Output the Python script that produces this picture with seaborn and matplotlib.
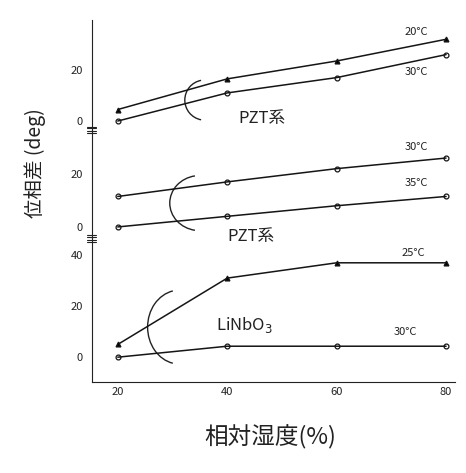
import numpy as np
import pandas as pd
import matplotlib.pyplot as plt
from matplotlib.patches import Arc
import seaborn as sns

sns.set_style("white")
plt.rcParams['font.family'] = ['Noto Sans CJK JP', 'DejaVu Sans']

humidity = [20, 40, 60, 80]
x_ticks = [20, 40, 60, 80]

# PZT (upper panel)
pzt_a_20c = [4.5, 16.5, 23.5, 32]
pzt_a_30c = [0, 11, 17, 26]
# PZT (middle panel)
pzt_b_30c = [11.5, 17, 22, 26]
pzt_b_35c = [0, 4, 8, 11.5]
# LiNbO3 (lower panel)
linbo_25c = [5, 31, 37, 37]
linbo_30c = [0, 4.3, 4.3, 4.3]

panels = [
    {"series": [("20°C", pzt_a_20c, "^", "k"), ("30°C", pzt_a_30c, "o", "none")],
     "ylim": (-3.5, 39.6), "yticks": [0, 20], "name": "PZT系",
     "name_xy": (42, 1), "lab_xy": [(74.5, 35), (74.5, 19)],
     "arc": (35.9, 8.2, 7.3, 15.7)},
    {"series": [("30°C", pzt_b_30c, "o", "none"), ("35°C", pzt_b_35c, "o", "none")],
     "ylim": (-4.2, 36.6), "yticks": [0, 20], "name": "PZT系",
     "name_xy": (40, -3.5), "lab_xy": [(74.5, 30), (74.5, 16.6)],
     "arc": (35, 9, 11, 20.8)},
    {"series": [("25°C", linbo_25c, "^", "k"), ("30°C", linbo_30c, "o", "none")],
     "ylim": (-9.8, 46.7), "yticks": [0, 20, 40], "name": "LiNbO$_3$",
     "name_xy": (38, 12.5), "lab_xy": [(74, 41), (72.5, 10)],
     "arc": (31.3, 11.8, 11.7, 29)},
]

fig = plt.figure(figsize=(4.66, 4.73), dpi=100)
gs = fig.add_gridspec(3, 1, height_ratios=[110, 108, 144], hspace=0,
                      left=0.197, right=0.976, bottom=0.192, top=0.958)

for i, p in enumerate(panels):
    ax = fig.add_subplot(gs[i])
    for (lab, vals, mk, fc), (lx, ly) in zip(p["series"], p["lab_xy"]):
        df = pd.DataFrame({"RH": humidity, "phase": vals})
        sns.lineplot(data=df, x="RH", y="phase", ax=ax, color="#151515", lw=1.1,
                     marker=mk, markersize=3.5, markerfacecolor=fc,
                     markeredgecolor="#151515", markeredgewidth=0.9)
        ax.text(lx, ly, lab, fontsize=8, ha="center", va="center", color="#222")
    cx, cy, w, h = p["arc"]
    ax.add_patch(Arc((cx, cy), w, h, theta1=95, theta2=265, color="#222",
                     lw=1.0, clip_on=False))
    ax.text(*p["name_xy"], p["name"], fontsize=12, ha="left", va="center",
            color="#222", clip_on=False)
    ax.set_xlim(15.25, 81.6)
    ax.set_ylim(*p["ylim"])
    ax.set_yticks(p["yticks"])
    ax.set_xticks(x_ticks)
    ax.set_xlabel("")
    ax.set_ylabel("")
    for s in ["top", "right"]:
        ax.spines[s].set_visible(False)
    ax.spines["left"].set_color("#222")
    ax.tick_params(axis="y", direction="out", length=3, labelsize=8, colors="#222")
    ax.patch.set_alpha(0)
    if i < 2:
        ax.spines["bottom"].set_visible(False)
        ax.tick_params(axis="x", bottom=False, labelbottom=False)
        # axis break marks
        for dy in (-0.006, 0.006):
            ax.plot([-0.012, 0.012], [dy + 0.02, dy + 0.02], transform=ax.transAxes,
                    color="#222", lw=0.8, clip_on=False)
    else:
        ax.spines["bottom"].set_color("#222")
        ax.tick_params(axis="x", direction="in", length=3, labelsize=8, colors="#222")
    if i > 0:
        for dy in (-0.006, 0.006):
            ax.plot([-0.012, 0.012], [1 - 0.02 + dy, 1 - 0.02 + dy],
                    transform=ax.transAxes, color="#222", lw=0.8, clip_on=False)

fig.text(0.075, 0.655, "位相差 (deg)", rotation=90, fontsize=14, ha="center",
         va="center", color="#222")
fig.text(0.58, 0.075, "相対湿度(%)", fontsize=17, ha="center", va="center",
         color="#222")

fig.savefig("out.png", dpi=100)
